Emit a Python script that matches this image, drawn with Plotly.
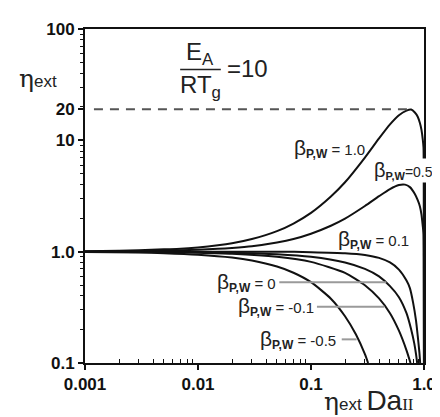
import plotly.graph_objects as go

# ---------------- data ----------------
x_b10 = [0.001, 0.002, 0.003, 0.005, 0.007, 0.01, 0.015, 0.02, 0.03, 0.05, 0.07, 0.1, 0.15, 0.2,
         0.3, 0.4, 0.5, 0.6, 0.7, 0.77, 0.83, 0.88, 0.92, 0.95, 0.975, 0.99, 0.995, 0.999]
y_b10 = [1.01, 1.02, 1.03, 1.05, 1.06, 1.09, 1.14, 1.19, 1.30, 1.53, 1.79, 2.23, 3.13, 4.2,
         7.0, 10.4, 13.9, 16.8, 18.5, 18.9, 17.8, 16.3, 14.3, 12.4, 10.2, 8.6, 4.0, 0.1]

x_b05 = [0.001, 0.002, 0.003, 0.005, 0.007, 0.01, 0.015, 0.02, 0.03, 0.05, 0.07, 0.1, 0.15, 0.2,
         0.3, 0.4, 0.5, 0.6, 0.68, 0.75, 0.83, 0.88, 0.92, 0.95, 0.975, 0.99, 0.995, 0.999]
y_b05 = [1.0, 1.01, 1.01, 1.02, 1.03, 1.04, 1.06, 1.08, 1.12, 1.21, 1.30, 1.45, 1.71, 1.98,
         2.57, 3.15, 3.65, 3.97, 4.0, 3.8, 3.3, 2.9, 2.55, 2.15, 1.7, 1.45, 0.9, 0.1]

x_b01 = [0.001, 0.01, 0.03, 0.05, 0.1, 0.2, 0.3, 0.4, 0.5, 0.6, 0.7, 0.75, 0.8, 0.85, 0.88, 0.91, 0.925]
y_b01 = [1.0, 1.0, 1.0, 1.0, 0.99, 0.97, 0.935, 0.88, 0.8, 0.69, 0.55, 0.47, 0.35, 0.24, 0.175, 0.125, 0.1]

x_b00 = [0.001, 0.01, 0.02, 0.05, 0.1, 0.2, 0.3, 0.4, 0.5, 0.6, 0.7, 0.77, 0.82, 0.85, 0.87]
y_b00 = [1.0, 0.99, 0.98, 0.95, 0.9, 0.8, 0.7, 0.6, 0.49, 0.39, 0.28, 0.2, 0.15, 0.12, 0.1]

x_bm01 = [0.001, 0.005, 0.01, 0.02, 0.05, 0.1, 0.2, 0.3, 0.4, 0.5, 0.6, 0.7, 0.76]
y_bm01 = [1.0, 0.99, 0.98, 0.96, 0.90, 0.81, 0.645, 0.5, 0.38, 0.28, 0.195, 0.13, 0.1]

x_bm05 = [0.001, 0.003, 0.005, 0.01, 0.02, 0.03, 0.05, 0.07, 0.1, 0.15, 0.2, 0.25, 0.3, 0.32]
y_bm05 = [0.995, 0.982, 0.97, 0.94, 0.886, 0.833, 0.735, 0.647, 0.532, 0.378, 0.263, 0.18, 0.12, 0.1]

dash_x = [0.0012, 0.76]
dash_y = [19, 19]

x_ticks = [0.001, 0.01, 0.1, 1.0]
x_ticktext = ["0.001", "0.01", "0.1", "1.0"]
y_ticks = [0.1, 1.0, 10, 19, 100]
y_ticktext = ["0.1", "1.0", "10", "20", "100"]

# ---------------- figure ----------------
L, R, T, B = 77, 419, 16, 355
W, H = 440, 417


def px(p):
    return (p - L) / (R - L)


def py(p):
    return (B - p) / (B - T)


fig = go.Figure()
line_style = dict(color="#111111", width=2)
for xs, ys in [(x_b10, y_b10), (x_b05, y_b05), (x_b01, y_b01),
               (x_b00, y_b00), (x_bm01, y_bm01), (x_bm05, y_bm05)]:
    fig.add_trace(go.Scatter(x=xs, y=ys, mode="lines", line=dict(shape="spline", smoothing=0.6, **line_style),
                             showlegend=False, hoverinfo="skip"))

fig.add_trace(go.Scatter(x=dash_x, y=dash_y, mode="lines",
                         line=dict(color="#555555", width=2, dash="9px,7px"),
                         showlegend=False, hoverinfo="skip"))

minor_x = [m * 10 ** e for e in (-3, -2, -1) for m in range(2, 10)]
minor_y = [m * 10 ** e for e in (-1, 0, 1) for m in range(2, 10)]

tickfont = dict(family="Liberation Sans, Arial, sans-serif", size=17, color="#111111", weight="bold")
fig.update_xaxes(type="log", range=[-3, 0], tickmode="array", tickvals=x_ticks, ticktext=x_ticktext,
                 ticks="outside", ticklen=5, tickwidth=1.5, tickcolor="#111111",
                 showline=True, linecolor="#111111", linewidth=2, mirror=True,
                 showgrid=False, zeroline=False, tickfont=tickfont,
                 minor=dict(tickmode="array", tickvals=minor_x, ticks="inside", ticklen=4,
                            tickwidth=1.2, tickcolor="#111111", showgrid=False))
fig.update_yaxes(type="log", range=[-1, 2], tickmode="array", tickvals=y_ticks, ticktext=y_ticktext,
                 ticks="outside", ticklen=5, tickwidth=1.5, tickcolor="#111111",
                 showline=True, linecolor="#111111", linewidth=2, mirror=True,
                 showgrid=False, zeroline=False, tickfont=tickfont,
                 minor=dict(tickmode="array", tickvals=minor_y, ticks="outside", ticklen=3,
                            tickwidth=1.2, tickcolor="#111111", showgrid=False))

lab_font = dict(family="Liberation Sans, Arial, sans-serif", size=15, color="#222222")


def beta(val, bsize=21, ssize=12):
    return ("<span style='font-size:%dpx'>β</span><sub><span style='font-size:%dpx'><b>P,W</b></span></sub>"
            % (bsize, ssize)) + val


labels = [
    (beta(" = 1.0"), 287, 137, "left", False, 15),
    (beta("=0.5", 20, 11), 368, 160, "left", True, 14),
    (beta(" = 0.1"), 331, 230, "left", False, 15),
    (beta(" = 0"), 271, 273, "right", False, 15),
    (beta(" = -0.1"), 309, 298, "right", False, 15),
    (beta(" = -0.5"), 331, 331, "right", False, 15),
]
annotations = []
for txt, xp, yp, anc, bg, fs in labels:
    annotations.append(dict(text=txt, x=px(xp), y=py(yp), xref="paper", yref="paper",
                            xanchor=anc, yanchor="middle", showarrow=False,
                            font=dict(lab_font, size=fs),
                            bgcolor="white" if bg else None, borderpad=0))

# leader lines
shapes = []
for x0, x1, yy in [(273, 381, 273), (311, 379, 298), (336, 351, 331)]:
    shapes.append(dict(type="line", xref="paper", yref="paper", x0=px(x0), x1=px(x1),
                       y0=py(yy), y1=py(yy), line=dict(color="#9a9a9a", width=2)))

# E_A / RT_g = 10
big = dict(family="Liberation Sans, Arial, sans-serif", size=24, color="#222222")
annotations.append(dict(text="E<sub>A</sub>", x=px(193), y=py(41), xref="paper", yref="paper",
                        xanchor="center", yanchor="middle", showarrow=False, font=big))
annotations.append(dict(text="RT<sub>g</sub>", x=px(194), y=py(74), xref="paper", yref="paper",
                        xanchor="center", yanchor="middle", showarrow=False, font=big))
annotations.append(dict(text="=10", x=px(218), y=py(56), xref="paper", yref="paper",
                        xanchor="left", yanchor="middle", showarrow=False, font=big))
shapes.append(dict(type="line", xref="paper", yref="paper", x0=px(173), x1=px(214),
                   y0=py(57), y1=py(57), line=dict(color="#222222", width=1.5)))

# axis titles
annotations.append(dict(text="<span style='font-family:DejaVu Serif, serif;font-size:25px'>η</span>"
                             "<span style='font-size:17px'>ext</span>",
                        x=px(8), y=py(66), xref="paper", yref="paper", xanchor="left",
                        yanchor="middle", showarrow=False,
                        font=dict(family="Liberation Sans, Arial, sans-serif", size=17, color="#222222")))
annotations.append(dict(text="<span style='font-family:DejaVu Serif, serif;font-size:25px'>η</span>"
                             "<span style='font-size:17px'>ext </span>"
                             "<span style='font-size:28px'>Da</span>"
                             "<span style='font-family:Liberation Serif, serif;font-size:17px'>II</span>",
                        x=px(316), y=py(393), xref="paper", yref="paper", xanchor="left",
                        yanchor="middle", showarrow=False,
                        font=dict(family="Liberation Sans, Arial, sans-serif", size=17, color="#222222")))

fig.update_layout(width=W, height=H, margin=dict(l=L, r=W - R, t=T, b=H - B),
                  paper_bgcolor="white", plot_bgcolor="white",
                  annotations=annotations, shapes=shapes, showlegend=False)

fig.write_html("out.html")
